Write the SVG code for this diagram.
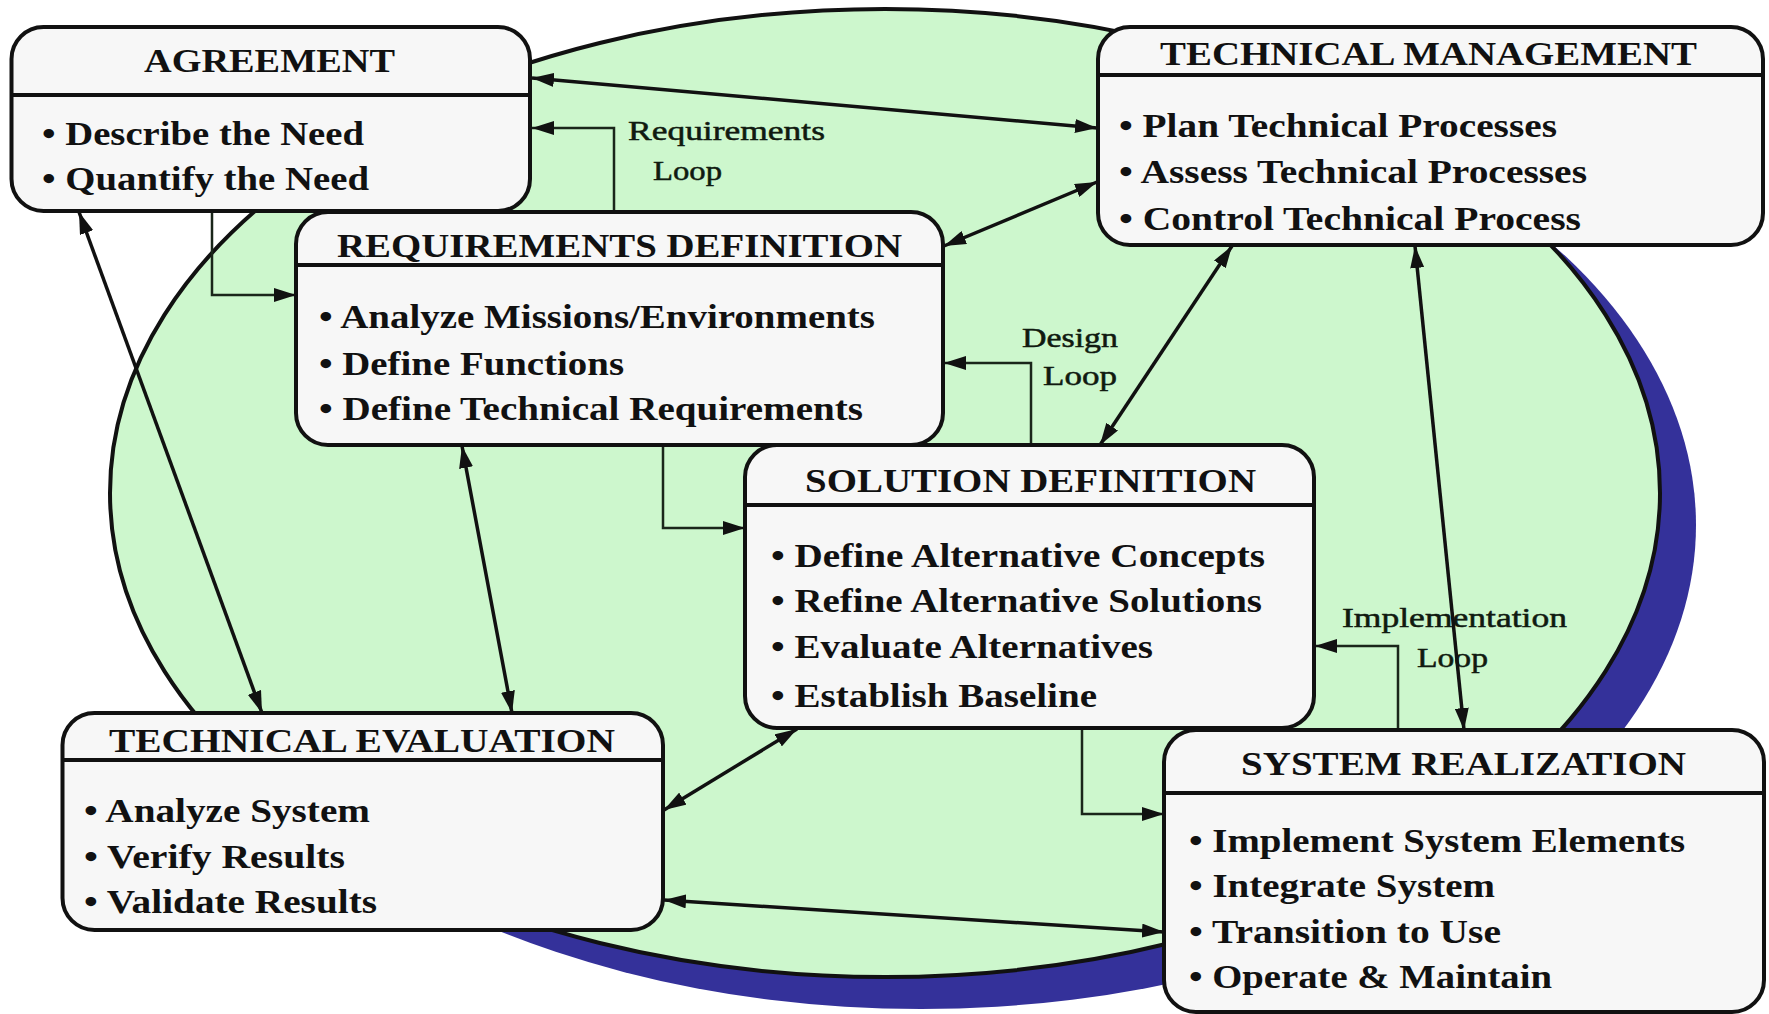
<svg xmlns="http://www.w3.org/2000/svg" width="1769" height="1014" viewBox="0 0 1769 1014">
<style>
.box{fill:#f7f7f7;stroke:#111;stroke-width:4}
.dv{stroke:#111;stroke-width:4}
.t{font-family:"Liberation Serif","Times New Roman",serif;font-weight:bold;font-size:34px;fill:#111}
.lb{font-family:"Liberation Serif","Times New Roman",serif;font-size:27px;fill:#101a10;stroke:#101a10;stroke-width:0.5}
.c{stroke:#111;stroke-width:3.5;fill:none}
.lp{stroke:#1a261a;stroke-width:2.5;fill:none}
</style>
<defs>
<marker id="ah" viewBox="0 0 22 14" refX="22" refY="7" markerWidth="22" markerHeight="14" markerUnits="userSpaceOnUse" orient="auto-start-reverse">
<path d="M0,0 L22,7 L0,14 z" fill="#111"/>
</marker>
<marker id="al" viewBox="0 0 22 14" refX="22" refY="7" markerWidth="22" markerHeight="14" markerUnits="userSpaceOnUse" orient="auto">
<path d="M0,0 L22,7 L0,14 z" fill="#111"/>
</marker>
</defs>
<rect width="1769" height="1014" fill="#ffffff"/>
<g id="background">
<ellipse cx="921" cy="525" rx="775" ry="484" fill="#34319a"/>
<ellipse cx="885" cy="493" rx="775" ry="484" fill="#cdf7cd" stroke="#111" stroke-width="4"/>
</g>
<g id="labels">
<text class="lb" x="628" y="140" textLength="197" lengthAdjust="spacingAndGlyphs">Requirements</text>
<text class="lb" x="653" y="180" textLength="69" lengthAdjust="spacingAndGlyphs">Loop</text>
<text class="lb" x="1022" y="347" textLength="96" lengthAdjust="spacingAndGlyphs">Design</text>
<text class="lb" x="1043" y="385" textLength="74" lengthAdjust="spacingAndGlyphs">Loop</text>
<text class="lb" x="1342" y="627" textLength="225" lengthAdjust="spacingAndGlyphs">Implementation</text>
<text class="lb" x="1417" y="667" textLength="71" lengthAdjust="spacingAndGlyphs">Loop</text>
</g>
<g id="connectors">
<line class="c" x1="532" y1="78" x2="1097" y2="128" marker-start="url(#ah)" marker-end="url(#ah)"/>
<polyline class="lp" points="614,212 614,128 532,128" marker-end="url(#al)"/>
<polyline class="lp" points="212,211 212,295 296,295" marker-end="url(#al)"/>
<line class="c" x1="79" y1="212" x2="262" y2="713" marker-start="url(#ah)" marker-end="url(#ah)"/>
<line class="c" x1="1097" y1="182" x2="944" y2="246" marker-start="url(#ah)" marker-end="url(#ah)"/>
<polyline class="lp" points="1031,445 1031,363 944,363" marker-end="url(#al)"/>
<line class="c" x1="1232" y1="246" x2="1100" y2="445" marker-start="url(#ah)" marker-end="url(#ah)"/>
<polyline class="lp" points="663,445 663,528 745,528" marker-end="url(#al)"/>
<line class="c" x1="462" y1="446" x2="512" y2="713" marker-start="url(#ah)" marker-end="url(#ah)"/>
<line class="c" x1="797" y1="729" x2="664" y2="810" marker-start="url(#ah)" marker-end="url(#ah)"/>
<line class="c" x1="664" y1="900" x2="1164" y2="932" marker-start="url(#ah)" marker-end="url(#ah)"/>
<polyline class="lp" points="1082,728 1082,814 1164,814" marker-end="url(#al)"/>
<polyline class="lp" points="1398,730 1398,646 1315,646" marker-end="url(#al)"/>
<line class="c" x1="1415" y1="246" x2="1464" y2="730" marker-start="url(#ah)" marker-end="url(#ah)"/>
</g>
<g id="agreement">
<rect class="box" x="11.5" y="27" width="518.5" height="184" rx="32" ry="32"/>
<line class="dv" x1="11.5" y1="95" x2="530" y2="95"/>
<text class="t" x="144" y="72" textLength="251" lengthAdjust="spacingAndGlyphs">AGREEMENT</text>
<text class="t" x="42" y="145" textLength="322" lengthAdjust="spacingAndGlyphs">• Describe the Need</text>
<text class="t" x="42" y="190" textLength="327" lengthAdjust="spacingAndGlyphs">• Quantify the Need</text>
</g>
<g id="technical-management">
<rect class="box" x="1098" y="27" width="665" height="218" rx="32" ry="32"/>
<line class="dv" x1="1098" y1="75" x2="1763" y2="75"/>
<text class="t" x="1160" y="65" textLength="537" lengthAdjust="spacingAndGlyphs">TECHNICAL MANAGEMENT</text>
<text class="t" x="1119" y="137" textLength="438" lengthAdjust="spacingAndGlyphs">• Plan Technical Processes</text>
<text class="t" x="1119" y="183" textLength="468" lengthAdjust="spacingAndGlyphs">• Assess Technical Processes</text>
<text class="t" x="1119" y="230" textLength="462" lengthAdjust="spacingAndGlyphs">• Control Technical Process</text>
</g>
<g id="requirements-definition">
<rect class="box" x="296" y="212" width="647" height="233" rx="32" ry="32"/>
<line class="dv" x1="296" y1="265" x2="943" y2="265"/>
<text class="t" x="337" y="257" textLength="565" lengthAdjust="spacingAndGlyphs">REQUIREMENTS DEFINITION</text>
<text class="t" x="319" y="328" textLength="556" lengthAdjust="spacingAndGlyphs">• Analyze Missions/Environments</text>
<text class="t" x="319" y="375" textLength="305" lengthAdjust="spacingAndGlyphs">• Define Functions</text>
<text class="t" x="319" y="420" textLength="544" lengthAdjust="spacingAndGlyphs">• Define Technical Requirements</text>
</g>
<g id="solution-definition">
<rect class="box" x="745" y="445" width="569" height="283" rx="32" ry="32"/>
<line class="dv" x1="745" y1="505" x2="1314" y2="505"/>
<text class="t" x="805" y="492" textLength="451" lengthAdjust="spacingAndGlyphs">SOLUTION DEFINITION</text>
<text class="t" x="771" y="567" textLength="494" lengthAdjust="spacingAndGlyphs">• Define Alternative Concepts</text>
<text class="t" x="771" y="612" textLength="491" lengthAdjust="spacingAndGlyphs">• Refine Alternative Solutions</text>
<text class="t" x="771" y="658" textLength="382" lengthAdjust="spacingAndGlyphs">• Evaluate Alternatives</text>
<text class="t" x="771" y="707" textLength="326" lengthAdjust="spacingAndGlyphs">• Establish Baseline</text>
</g>
<g id="technical-evaluation">
<rect class="box" x="62.5" y="713" width="600.5" height="217" rx="32" ry="32"/>
<line class="dv" x1="62.5" y1="760" x2="663" y2="760"/>
<text class="t" x="109" y="752" textLength="506" lengthAdjust="spacingAndGlyphs">TECHNICAL EVALUATION</text>
<text class="t" x="84" y="822" textLength="286" lengthAdjust="spacingAndGlyphs">• Analyze System</text>
<text class="t" x="84" y="868" textLength="261" lengthAdjust="spacingAndGlyphs">• Verify Results</text>
<text class="t" x="84" y="913" textLength="293" lengthAdjust="spacingAndGlyphs">• Validate Results</text>
</g>
<g id="system-realization">
<rect class="box" x="1164" y="730" width="600" height="282" rx="32" ry="32"/>
<line class="dv" x1="1164" y1="793" x2="1764" y2="793"/>
<text class="t" x="1241" y="775" textLength="445" lengthAdjust="spacingAndGlyphs">SYSTEM REALIZATION</text>
<text class="t" x="1189" y="852" textLength="496" lengthAdjust="spacingAndGlyphs">• Implement System Elements</text>
<text class="t" x="1189" y="897" textLength="306" lengthAdjust="spacingAndGlyphs">• Integrate System</text>
<text class="t" x="1189" y="943" textLength="312" lengthAdjust="spacingAndGlyphs">• Transition to Use</text>
<text class="t" x="1189" y="988" textLength="363" lengthAdjust="spacingAndGlyphs">• Operate &amp; Maintain</text>
</g>
</svg>
